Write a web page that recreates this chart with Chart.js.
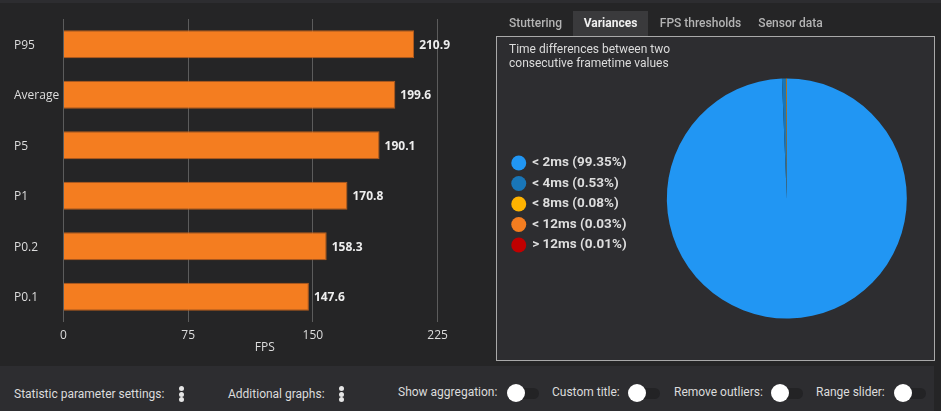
<!DOCTYPE html>
<html>
<head>
<meta charset="utf-8">
<script src="https://cdn.jsdelivr.net/npm/chart.js@4"></script>
<style>
html, body { margin: 0; padding: 0; background: #252526; }
body { width: 941px; height: 411px; position: relative; overflow: hidden; font-family: Roboto, sans-serif; }
.abs { position: absolute; white-space: nowrap; }
#topStrip { left: 0; top: 0; width: 941px; height: 3px; background: #2d2d30; }
#bottomStrip { left: 0; top: 366px; width: 934px; height: 45px; background: #2d2d30; }
#pieBox { left: 496px; top: 36px; width: 437px; height: 323px; border: 1px solid #a9a9a9; background: #2d2d30; }
#barCanvasWrap { left: 0; top: 0; width: 470px; height: 366px; }
#pieCanvasWrap { left: 497px; top: 37px; width: 441px; height: 333px; }
.tab { top: 11px; height: 25px; line-height: 25px; font-size: 12px; font-weight: 500; color: #b4b4b4; text-align: center; }
.tab.active { background: #3a3a3c; color: #f0f0f0; font-weight: 700; }
#pieTitle { left: 509px; top: 42px; font-size: 12px; line-height: 14px; color: #dcdcdc; }
.opt { font-size: 12px; color: #dcdcdc; line-height: 16px; }
.dot { width: 5px; height: 5px; border-radius: 50%; background: #e6e6e6; }
.track { width: 23px; height: 11px; border-radius: 6px; background: #232325; }
.knob { width: 18px; height: 18px; border-radius: 50%; background: #fff; }
</style>
</head>
<body>
<div class="abs" id="topStrip"></div>
<div class="abs" id="bottomStrip"></div>
<div class="abs" id="pieBox"></div>
<div class="abs" id="barCanvasWrap"><canvas id="barChart" width="470" height="366"></canvas></div>
<div class="abs" id="pieCanvasWrap"><canvas id="pieChart" width="441" height="333"></canvas></div>
<div class="abs" id="pieTitle">Time differences between two<br>consecutive frametime values</div>
<div id="controls"></div>
<script>
const barLabels = ["P95", "Average", "P5", "P1", "P0.2", "P0.1"];
const fpsValues = [210.9, 199.6, 190.1, 170.8, 158.3, 147.6];
const fpsTicks = [0, 75, 150, 225];

const varianceLabels = ["< 2ms", "< 4ms", "< 8ms", "< 12ms", "> 12ms"];
const varianceValues = [99.35, 0.53, 0.08, 0.03, 0.01];
const varianceColors = ["#2196f3", "#1976b8", "#ffb300", "#f47d20", "#c00000"];

const tabNames = ["Stuttering", "Variances", "FPS thresholds", "Sensor data"];
const tabLefts = [498, 573, 650, 747];
const tabWidths = [75, 75, 101, 87];

const chartFont = "'Open Sans', sans-serif";

const valueLabels = {
    id: "valueLabels",
    afterDatasetsDraw(chart) {
        const ctx = chart.ctx;
        const meta = chart.getDatasetMeta(0);
        ctx.save();
        ctx.font = "bold 12px " + chartFont;
        ctx.fillStyle = "#eeeeee";
        ctx.textBaseline = "middle";
        meta.data.forEach((bar, i) => {
            ctx.fillText(fpsValues[i].toFixed(1), bar.x + 5, bar.y + 1);
        });
        ctx.restore();
    }
};

new Chart(document.getElementById("barChart"), {
    type: "bar",
    data: {
        labels: barLabels,
        datasets: [{
            data: fpsValues,
            backgroundColor: "#f47d20",
            borderColor: "#b55c1e",
            borderWidth: 1,
            categoryPercentage: 1,
            barPercentage: 0.555
        }]
    },
    options: {
        indexAxis: "y",
        responsive: false,
        animation: false,
        layout: { padding: { left: 14, right: 4, top: 19, bottom: 11 } },
        plugins: { legend: { display: false }, tooltip: { enabled: false } },
        scales: {
            x: {
                min: 0,
                max: 242.1,
                afterBuildTicks: axis => { axis.ticks = fpsTicks.map(v => ({ value: v })); },
                afterFit: axis => { axis.height = 33; },
                border: { display: false },
                grid: { color: "#5c5c5c", drawTicks: false, lineWidth: 1 },
                ticks: { color: "#dddddd", font: { family: chartFont, size: 12 }, padding: 6, maxRotation: 0 },
                title: { display: true, text: "FPS", color: "#dddddd", font: { family: chartFont, size: 12 }, padding: { top: 0, bottom: 0 } }
            },
            y: {
                afterFit: axis => { axis.width = 49.5; },
                border: { display: false },
                grid: { display: false },
                ticks: { color: "#dddddd", font: { family: chartFont, size: 12 }, crossAlign: "far", padding: 0, labelOffset: 1 }
            }
        }
    },
    plugins: [valueLabels]
});

// legend sits 5px lower than the pie in the reference
const shiftLegend = {
    id: "shiftLegend",
    afterLayout(chart) {
        chart.legend.top += 5.5;
        chart.legend.bottom += 5.5;
    }
};

new Chart(document.getElementById("pieChart"), {
    type: "pie",
    data: {
        labels: varianceLabels.map((l, i) => l + " (" + varianceValues[i] + "%)"),
        datasets: [{
            data: varianceValues,
            backgroundColor: varianceColors,
            borderWidth: 0,
            radius: 120
        }]
    },
    options: {
        responsive: false,
        animation: false,
        layout: { padding: { left: 8, right: 1, top: 0, bottom: 10 } },
        plugins: {
            tooltip: { enabled: false },
            legend: {
                position: "left",
                labels: {
                    usePointStyle: true,
                    boxHeight: 10.6,
                    padding: 7,
                    color: "#dddddd",
                    font: { family: "Roboto, sans-serif", size: 13.5, weight: "bold" }
                }
            }
        }
    },
    plugins: [shiftLegend]
});

function addEl(cls, left, top, text) {
    const el = document.createElement("div");
    el.className = "abs " + cls;
    el.style.left = left + "px";
    el.style.top = top + "px";
    if (text) el.textContent = text;
    document.getElementById("controls").appendChild(el);
    return el;
}

tabNames.forEach((name, i) => {
    const tab = addEl("tab" + (i === 1 ? " active" : ""), tabLefts[i], 11, name);
    tab.style.width = tabWidths[i] + "px";
});

addEl("opt", 14, 386, "Statistic parameter settings:");
addEl("opt", 228, 386, "Additional graphs:");
[178.5, 338.5].forEach(x => {
    [386, 391.5, 397].forEach(y => addEl("dot", x, y));
});

const toggleNames = ["Show aggregation:", "Custom title:", "Remove outliers:", "Range slider:"];
const toggleTextLefts = [398, 552, 674, 816];
const toggleKnobLefts = [507, 628, 771, 894];
toggleNames.forEach((name, i) => {
    addEl("opt", toggleTextLefts[i], 384, name);
    addEl("track", toggleKnobLefts[i] + 9, 388);
    addEl("knob", toggleKnobLefts[i], 384);
});
</script>
</body>
</html>
